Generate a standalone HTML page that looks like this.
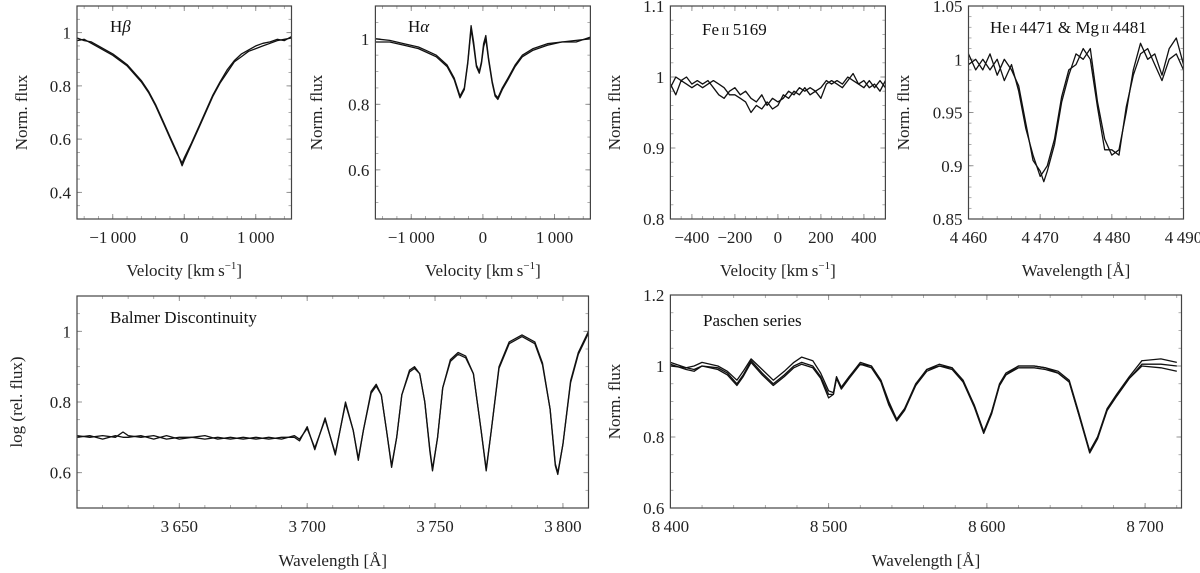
<!DOCTYPE html>
<html><head><meta charset="utf-8"><style>
body{margin:0;background:#fff;}
svg{display:block;}
text{font-family:"Liberation Serif","DejaVu Serif",serif;}
</style></head><body>
<svg id="fig" width="1200" height="573" viewBox="0 0 1200 573" xmlns="http://www.w3.org/2000/svg" font-family="Liberation Serif, DejaVu Serif, serif"></svg>
<script>
// ---------- data ----------
const hbV = [-1500,-1400,-1300,-1200,-1100,-1000,-900,-800,-700,-600,-500,-400,-300,-200,-100,-30,0,100,200,300,400,500,600,700,800,900,1000,1100,1200,1300,1400,1500];
const hbA = [0.98,0.97,0.965,0.95,0.935,0.92,0.90,0.88,0.85,0.82,0.78,0.73,0.67,0.61,0.55,0.50,0.52,0.58,0.64,0.70,0.76,0.81,0.85,0.89,0.91,0.93,0.94,0.95,0.96,0.97,0.975,0.98];
const hbB = [0.97,0.975,0.96,0.945,0.93,0.915,0.895,0.875,0.845,0.815,0.775,0.725,0.665,0.605,0.545,0.51,0.53,0.585,0.645,0.705,0.765,0.815,0.86,0.895,0.92,0.935,0.95,0.96,0.965,0.975,0.97,0.985];

const haV = [-1500,-1300,-1100,-900,-800,-650,-500,-400,-320,-260,-210,-165,-130,-90,-50,-20,10,40,80,130,170,210,270,350,450,550,700,900,1100,1300,1500];
const haA = [1.0,0.995,0.985,0.975,0.965,0.95,0.92,0.88,0.825,0.85,0.93,1.04,0.99,0.92,0.90,0.93,0.985,1.01,0.94,0.87,0.83,0.82,0.85,0.88,0.92,0.95,0.97,0.985,0.99,0.995,1.0];
const haB = [0.99,0.99,0.98,0.97,0.96,0.945,0.915,0.875,0.82,0.845,0.925,1.03,0.98,0.915,0.895,0.925,0.975,1.0,0.935,0.865,0.825,0.815,0.845,0.875,0.915,0.945,0.965,0.98,0.99,0.99,1.005];

const feV = [-500,-475,-450,-425,-400,-375,-350,-325,-300,-275,-250,-225,-200,-175,-150,-125,-100,-75,-50,-25,0,25,50,75,100,125,150,175,200,225,250,275,300,325,350,375,400,425,450,475,500];
const feA = [0.99,0.975,0.995,0.99,0.985,0.99,0.985,0.99,0.995,0.99,0.985,0.975,0.975,0.97,0.965,0.95,0.96,0.955,0.965,0.955,0.96,0.975,0.97,0.98,0.975,0.985,0.975,0.98,0.97,0.99,0.995,0.99,0.985,0.995,1.005,0.99,0.995,0.985,0.99,0.98,0.995];
const feB = [0.985,1.0,0.995,1.0,0.99,0.995,0.99,0.995,0.985,0.975,0.97,0.98,0.985,0.975,0.98,0.97,0.965,0.975,0.96,0.97,0.965,0.97,0.98,0.975,0.985,0.98,0.985,0.98,0.985,0.995,0.99,0.995,0.99,1.0,0.995,0.99,0.985,0.995,0.985,0.995,0.985];

const heW = [4460,4461,4462,4463,4464,4465,4466,4467,4468,4469,4470,4470.5,4471,4472,4473,4474,4475,4476,4477,4478,4479,4480,4481,4482,4483,4484,4485,4486,4487,4488,4489,4490];
const heA = [0.995,1.0,0.99,1.005,0.985,1.0,0.99,0.975,0.94,0.905,0.895,0.885,0.895,0.92,0.96,0.985,1.005,1.0,1.01,0.96,0.925,0.91,0.915,0.95,0.99,1.015,1.0,1.005,0.985,1.01,1.02,0.995];
const heB = [1.005,0.99,1.0,0.99,1.0,0.98,0.995,0.97,0.935,0.91,0.89,0.895,0.9,0.925,0.965,0.99,0.995,1.01,1.0,0.955,0.915,0.915,0.91,0.955,0.985,1.005,1.01,0.995,0.98,1.0,1.005,0.99];

const baW = [3610,3615,3620,3625,3628,3630,3635,3640,3645,3650,3655,3660,3665,3670,3675,3680,3685,3690,3695,3697,3700,3703,3707,3711,3715,3718,3720,3722,3725,3727,3729,3731,3733,3735,3737,3740,3742,3744,3746,3748,3749,3751,3753,3756,3759,3762,3765,3768,3770,3772,3775,3779,3784,3789,3792,3795,3797,3798,3800,3803,3806,3810];
const baA = [0.705,0.70,0.705,0.70,0.715,0.705,0.70,0.705,0.695,0.70,0.70,0.705,0.695,0.70,0.695,0.70,0.695,0.70,0.70,0.69,0.73,0.665,0.755,0.65,0.80,0.72,0.635,0.72,0.83,0.85,0.82,0.72,0.615,0.70,0.82,0.89,0.90,0.88,0.80,0.66,0.605,0.70,0.84,0.92,0.94,0.93,0.88,0.72,0.605,0.72,0.90,0.97,0.99,0.97,0.91,0.78,0.62,0.595,0.68,0.86,0.94,1.0];
const baB = [0.70,0.705,0.695,0.705,0.70,0.70,0.705,0.695,0.705,0.695,0.70,0.695,0.70,0.695,0.70,0.695,0.70,0.695,0.705,0.695,0.725,0.67,0.75,0.655,0.795,0.72,0.64,0.72,0.825,0.845,0.82,0.72,0.62,0.70,0.82,0.885,0.895,0.88,0.80,0.665,0.61,0.70,0.84,0.915,0.935,0.925,0.88,0.72,0.61,0.72,0.895,0.965,0.985,0.965,0.905,0.78,0.625,0.60,0.68,0.855,0.935,0.995];

const paW = [8400,8410,8415,8420,8430,8436,8442,8446,8451,8458,8465,8472,8478,8483,8490,8495,8500,8503,8505,8508,8513,8520,8527,8533,8538,8543,8548,8555,8562,8570,8578,8585,8592,8598,8603,8608,8612,8620,8630,8637,8645,8652,8658,8665,8670,8676,8682,8690,8698,8710,8720];
const paA = [1.01,0.995,1.0,1.01,1.0,0.985,0.96,0.985,1.02,0.99,0.96,0.985,1.01,1.025,1.015,0.98,0.93,0.925,0.97,0.94,0.97,1.01,1.0,0.96,0.895,0.85,0.88,0.95,0.99,1.005,0.995,0.96,0.89,0.815,0.87,0.95,0.98,1.0,1.0,0.995,0.985,0.96,0.87,0.76,0.80,0.88,0.92,0.97,1.015,1.02,1.01];
const paB = [1.005,0.99,0.985,1.0,0.99,0.975,0.945,0.97,1.01,0.975,0.945,0.97,0.995,1.005,0.995,0.965,0.91,0.92,0.965,0.935,0.965,1.005,0.995,0.955,0.89,0.845,0.875,0.945,0.985,1.0,0.99,0.955,0.885,0.81,0.865,0.945,0.975,0.995,0.995,0.99,0.98,0.955,0.865,0.755,0.795,0.875,0.915,0.965,1.0,0.995,0.985];
const paC = [1.0,0.995,0.99,1.0,0.995,0.98,0.95,0.975,1.015,0.98,0.95,0.975,1.0,1.01,1.0,0.97,0.92,0.92,0.965,0.94,0.97,1.005,1.0,0.96,0.9,0.85,0.88,0.945,0.99,1.0,0.995,0.955,0.89,0.815,0.87,0.945,0.975,1.0,1.0,0.995,0.98,0.955,0.865,0.76,0.8,0.875,0.915,0.965,1.005,1.005,1.0];

// tick label arrays
const hbXT = [-1000,0,1000]; const hbYT = [0.4,0.6,0.8,1];
const haXT = [-1000,0,1000]; const haYT = [0.6,0.8,1];
const feXT = [-400,-200,0,200,400]; const feYT = [0.8,0.9,1,1.1];
const heXT = [4460,4470,4480,4490]; const heYT = [0.85,0.9,0.95,1,1.05];
const baXT = [3650,3700,3750,3800]; const baYT = [0.6,0.8,1];
const paXT = [8400,8500,8600,8700]; const paYT = [0.6,0.8,1,1.2];

// ---------- drawing ----------
const NS="http://www.w3.org/2000/svg";
const svg=document.getElementById('fig');
const FF='"Liberation Serif", "DejaVu Serif", serif';
function mk(tag,attrs,parent){const e=document.createElementNS(NS,tag);for(const k in attrs)e.setAttribute(k,attrs[k]);if(tag==='text')e.style.fontFamily=FF;(parent||svg).appendChild(e);return e;}
function fmt(v){let s=Math.abs(v)>=1000?String(Math.abs(v)).replace(/(\d)(?=(\d{3})$)/,'$1\u2009'):String(Math.abs(v));return (v<0?'\u2212':'')+s;}

function panel(p){
  const g=mk('g',{});
  
  
  const sx=v=>p.x0+(v-p.xmin)/(p.xmax-p.xmin)*(p.x1-p.x0);
  const sy=v=>p.y1-(v-p.ymin)/(p.ymax-p.ymin)*(p.y1-p.y0);
  for(let v=Math.ceil(p.xmin/p.xminor)*p.xminor; v<=p.xmax+1e-9; v+=p.xminor){
    const x=sx(v);
    mk('line',{x1:x,x2:x,y1:p.y0,y2:p.y0+3,stroke:'#999','stroke-width':0.8},g);
    mk('line',{x1:x,x2:x,y1:p.y1,y2:p.y1-3,stroke:'#999','stroke-width':0.8},g);
  }
  for(let v=Math.ceil(p.ymin/p.yminor-1e-9)*p.yminor; v<=p.ymax+1e-9; v+=p.yminor){
    const y=sy(v);
    mk('line',{x1:p.x0,x2:p.x0+3,y1:y,y2:y,stroke:'#999','stroke-width':0.8},g);
    mk('line',{x1:p.x1,x2:p.x1-3,y1:y,y2:y,stroke:'#999','stroke-width':0.8},g);
  }
  p.xt.forEach(v=>{const x=sx(v);
    mk('line',{x1:x,x2:x,y1:p.y1,y2:p.y1-5,stroke:'#888','stroke-width':0.9},g);
    mk('line',{x1:x,x2:x,y1:p.y0,y2:p.y0+5,stroke:'#888','stroke-width':0.9},g);
    const t=mk('text',{x:x,y:p.y1+24,'text-anchor':'middle','font-size':17,fill:'#222'},g);
    
    
    t.textContent=fmt(v);});
  p.yt.forEach(v=>{const y=sy(v);
    mk('line',{x1:p.x0,x2:p.x0+5,y1:y,y2:y,stroke:'#888','stroke-width':0.9},g);
    mk('line',{x1:p.x1,x2:p.x1-5,y1:y,y2:y,stroke:'#888','stroke-width':0.9},g);
    const t=mk('text',{x:p.x0-6,y:y+6,'text-anchor':'end','font-size':17,fill:'#222'},g);
    
    
    t.textContent=fmt(v);});
  const cp='c'+p.name;
  const clip=mk('clipPath',{id:cp},g); mk('rect',{x:p.x0,y:p.y0,width:p.x1-p.x0,height:p.y1-p.y0},clip);
  p.series.forEach((ys,i)=>{
    const d=ys.map((v,j)=>(j?'L':'M')+sx(p.xs[j]).toFixed(1)+','+sy(v).toFixed(1)).join('');
    const path=mk('path',{d:d,fill:'none',stroke:'#111','stroke-width':1.3,'stroke-linejoin':'round','clip-path':'url(#'+cp+')'},g);
    
    
  });
  mk('rect',{x:p.x0,y:p.y0,width:p.x1-p.x0,height:p.y1-p.y0,fill:'none',stroke:'#444','stroke-width':1.2},g);
  const tt=mk('text',{x:p.tx,y:p.ty,'font-size':17,fill:'#111'},g);
  
  
  tt.innerHTML=p.title;
  const xl=mk('text',{x:(p.x0+p.x1)/2,y:p.xly,'text-anchor':'middle','font-size':17,fill:'#222'},g);
  
  
  xl.innerHTML=p.xl;
  const cy=(p.y0+p.y1)/2;
  const yl=mk('text',{x:p.ylx,y:cy,'text-anchor':'middle','font-size':17,fill:'#222',transform:'rotate(-90 '+p.ylx+' '+cy+')'},g);
  
  
  yl.textContent=p.yl;
}
const VEL='Velocity [km\u2009s<tspan dy="-7" font-size="11">\u22121</tspan><tspan dy="7">]</tspan>';
const WL='Wavelength [Å]';
panel({name:'hbeta-panel',x0:77,x1:291.5,y0:6,y1:219,xmin:-1500,xmax:1500,ymin:0.3,ymax:1.1,xminor:200,yminor:0.05,xt:hbXT,yt:hbYT,xs:hbV,series:[hbA,hbB],title:'H<tspan font-style="italic">β</tspan>',tx:110,ty:32,xl:VEL,xly:276,yl:'Norm. flux',ylx:27});
panel({name:'halpha-panel',x0:375.4,x1:590.4,y0:6,y1:219,xmin:-1500,xmax:1500,ymin:0.45,ymax:1.1,xminor:200,yminor:0.05,xt:haXT,yt:haYT,xs:haV,series:[haA,haB],title:'H<tspan font-style="italic">α</tspan>',tx:408,ty:32,xl:VEL,xly:276,yl:'Norm. flux',ylx:322});
panel({name:'feii-panel',x0:670.4,x1:885.4,y0:6,y1:219,xmin:-500,xmax:500,ymin:0.8,ymax:1.1,xminor:50,yminor:0.02,xt:feXT,yt:feYT,xs:feV,series:[feA,feB],title:'Fe<tspan font-size="12">\u2009II</tspan>\u20095169',tx:702,ty:35,xl:VEL,xly:276,yl:'Norm. flux',ylx:620});
panel({name:'hei-mgii-panel',x0:968.5,x1:1183.5,y0:6,y1:219,xmin:4460,xmax:4490,ymin:0.85,ymax:1.05,xminor:2,yminor:0.01,xt:heXT,yt:heYT,xs:heW,series:[heA,heB],title:'He<tspan font-size="12">\u2009I</tspan>\u20094471 &amp; Mg<tspan font-size="12">\u2009II</tspan>\u20094481',tx:990,ty:33,xl:WL,xly:276,yl:'Norm. flux',ylx:909});
panel({name:'balmer-panel',x0:77,x1:588.5,y0:296,y1:508,xmin:3610,xmax:3810,ymin:0.5,ymax:1.1,xminor:10,yminor:0.05,xt:baXT,yt:baYT,xs:baW,series:[baA,baB],title:'Balmer Discontinuity',tx:110,ty:323,xl:WL,xly:566,yl:'log (rel. flux)',ylx:22});
panel({name:'paschen-panel',x0:670.4,x1:1181.5,y0:295,y1:508,xmin:8400,xmax:8723,ymin:0.6,ymax:1.2,xminor:20,yminor:0.05,xt:paXT,yt:paYT,xs:paW,series:[paA,paB,paC],title:'Paschen series',tx:703,ty:326,xl:WL,xly:566,yl:'Norm. flux',ylx:620});
</script>
</body></html>
